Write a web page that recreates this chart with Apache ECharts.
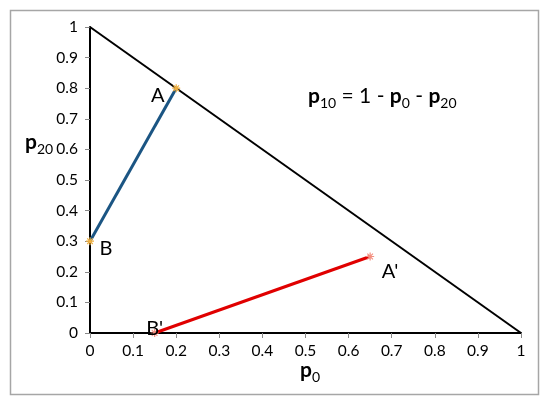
<!DOCTYPE html>
<html><head><meta charset="utf-8">
<script src="https://cdn.jsdelivr.net/npm/echarts@6/dist/echarts.min.js"></script>
<style>html,body{margin:0;padding:0;background:#fff}#c{width:550px;height:404px}</style>
</head><body><div id="c"></div>
<script>
const xTicks = [0,0.1,0.2,0.3,0.4,0.5,0.6,0.7,0.8,0.9,1];
const yTicks = [0,0.1,0.2,0.3,0.4,0.5,0.6,0.7,0.8,0.9,1];
const boundary = [[0,1],[1,0]];
const segAB = [[0,0.3],[0.2,0.8]];
const segABp = [[0.15,0],[0.65,0.25]];
const labelsAB = ['B','A'];
const labelsABp = ["B'","A'"];
const FONT = 'Lato, "Open Sans", sans-serif';
const star = 'path://M0,-5L0,5M-5,0L5,0M-3.5,-3.5L3.5,3.5M-3.5,3.5L3.5,-3.5';

const chart = echarts.init(document.getElementById('c'), null, {renderer:'canvas'});
const subRich = {
  b:{fontFamily:FONT,fontWeight:'bold',fontSize:21,color:'#000',lineHeight:24,verticalAlign:'bottom'},
  s:{fontFamily:FONT,fontSize:14,color:'#000',lineHeight:17,verticalAlign:'bottom',padding:[0,0,-3,0]},
  n:{fontFamily:FONT,fontSize:21,color:'#000',lineHeight:24,verticalAlign:'bottom'}
};
chart.setOption({
  animation:false,
  grid:{left:90,right:29,top:27,bottom:71},
  xAxis:{type:'value',min:0,max:1,interval:0.1,
    axisLine:{lineStyle:{color:'#000',width:2}},
    axisTick:{show:true,length:5,lineStyle:{color:'#888'}},
    splitLine:{show:false},
    axisLabel:{color:'#000',fontSize:15.5,fontFamily:FONT,margin:10,
      formatter:v=>String(Math.round(v*10)/10)}},
  yAxis:{type:'value',min:0,max:1,interval:0.1,
    axisLine:{show:true,lineStyle:{color:'#000',width:2}},
    axisTick:{show:true,length:5,lineStyle:{color:'#888'}},
    splitLine:{show:false},
    axisLabel:{color:'#000',fontSize:15.5,fontFamily:FONT,margin:12,
      formatter:v=>String(Math.round(v*10)/10)}},
  graphic:[
    {type:'rect',shape:{x:10.5,y:10.5,width:528,height:384},style:{fill:'none',stroke:'#a6a6a6',lineWidth:1.5},z:-1},
    {type:'text',left:300,top:360,style:{text:'{b|p}{s|0}',rich:subRich}},
    {type:'text',left:25,top:132,style:{text:'{b|p}{s|20}',rich:subRich}},
    {type:'text',left:308,top:86,style:{text:'{b|p}{s|10}{n| = 1 - }{b|p}{s|0}{n| - }{b|p}{s|20}',rich:subRich}}
  ],
  series:[
    {type:'line',data:boundary,symbol:'none',lineStyle:{color:'#000',width:2},z:2},
    {type:'line',symbol:star,symbolSize:8,showAllSymbol:true,
      data:[
        {value:segAB[0],label:{position:'right',offset:[0,7]}},
        {value:segAB[1],label:{position:'left',offset:[-2,7]}}
      ],
      itemStyle:{color:'#f0b040',borderColor:'#f0b040',borderWidth:1.2},
      lineStyle:{color:'#1b5583',width:3},z:3,
      label:{show:true,fontFamily:FONT,fontSize:20,color:'#000',
        formatter:p=>labelsAB[p.dataIndex]},
      emphasis:{disabled:true}},
    {type:'line',symbol:star,symbolSize:8,
      data:[
        {value:segABp[0],label:{position:'inside',offset:[0,-4]}},
        {value:segABp[1],label:{position:'right',offset:[2,15]}}
      ],
      itemStyle:{color:'#f49080',borderColor:'#f49080',borderWidth:1.2},
      lineStyle:{color:'#e00000',width:3},z:3,
      label:{show:true,fontFamily:FONT,fontSize:20,color:'#000',
        formatter:p=>labelsABp[p.dataIndex]},
      emphasis:{disabled:true}}
  ]
});
</script></body></html>
